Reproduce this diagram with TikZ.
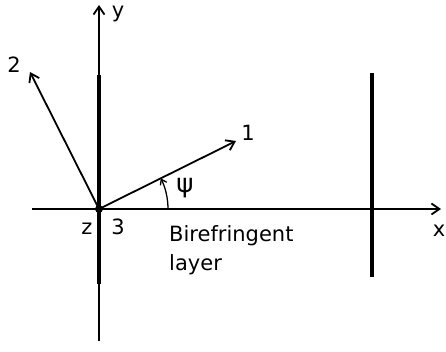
\documentclass[tikz,border=0pt]{standalone}
\usepackage{fontspec}
\setmainfont{DejaVu Sans}
\usetikzlibrary{arrows.meta}
\tikzset{
  axis/.style={line width=1.8pt, -{Straight Barb[length=8pt,width=11pt]}},
  anglearc/.style={line width=1.3pt, -{Straight Barb[length=5pt,width=7pt]}},
  layer/.style={line width=3.6pt},
  lbl/.style={font=\fontsize{21}{25}\selectfont, inner sep=0pt},
}
\begin{document}
\begin{tikzpicture}[x=1pt,y=1pt]
  \useasboundingbox (0,0) rectangle (446,352);
  \coordinate (O) at (99,143);
  \coordinate (xl) at (32,143);
  \coordinate (xr) at (441,143);
  \coordinate (yb) at (99,11);
  \coordinate (yt) at (99,347);
  \coordinate (e1) at (236,211);
  \coordinate (e2) at (30,280);
  % the two faces of the layer
  \draw[layer] (99,68) -- (99,277);
  \draw[layer] (372,75) -- (372,279);
  % axes
  \draw[axis] (xl) -- (xr);
  \draw[axis] (yb) -- (yt);
  \draw[axis] (O) -- (e1);
  \draw[axis] (O) -- (e2);
  \draw[anglearc] (168,143) arc (0:26.4:69);
  \fill (O) circle (4);
  % labels
  \node[lbl, anchor=base] (ylab) at (118,334) {y};
  \node[lbl, anchor=base] (xlab) at (439,115) {x};
  \node[lbl, anchor=base] (zlab) at (87,117) {z};
  \node[lbl, anchor=base] (n3) at (118,117) {3};
  \node[lbl, anchor=base] (n1) at (248,211) {1};
  \node[lbl, anchor=base] (n2) at (14,279) {2};
  \node[lbl, font=\fontsize{26}{30}\selectfont, anchor=base] (psi) at (185,159) {ψ};
  \node[lbl, anchor=base west] (bire) at (169,110) {Birefringent};
  \node[lbl, anchor=base west] (lay) at (169,81) {layer};
\end{tikzpicture}
\end{document}
